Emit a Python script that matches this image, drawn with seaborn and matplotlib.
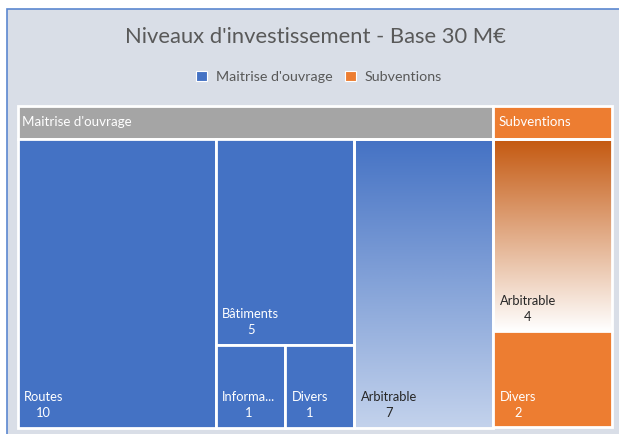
import numpy as np
import matplotlib
matplotlib.use("Agg")
import matplotlib.pyplot as plt
import seaborn as sns
from matplotlib.patches import Rectangle, Patch
from matplotlib.colors import LinearSegmentedColormap

# --- data -------------------------------------------------------------
title = "Niveaux d'investissement - Base 30 M€"
groups = ["Maitrise d'ouvrage", "Subventions"]

mo_labels = ["Routes", "Bâtiments", "Informa...", "Divers", "Arbitrable"]
mo_values = [10, 5, 1, 1, 7]

sub_labels = ["Arbitrable", "Divers"]
sub_values = [4, 2]

# nesting of the tiles inside each group (indices into the lists above)
mo_tree = [0, [1, [2, 3]], 4]
sub_tree = [0, 1]

# --- style ------------------------------------------------------------
sns.set_theme(style="white")
plt.rcParams["font.family"] = ["Lato", "DejaVu Sans"]

BLUE = "#4472C4"
ORANGE = "#ED7D31"
GREY = "#A5A5A5"
BG = "#D9DEE7"
TXT = "#595959"

W, H = 619, 434
fig = plt.figure(figsize=(W / 100, H / 100), dpi=100)
ax = fig.add_axes([0, 0, 1, 1])

# chart area frame
ax.add_patch(Rectangle((7, 8.5), W, H, facecolor=BG, edgecolor="#5B87D0", lw=1.2, zorder=0))

# --- treemap layout ---------------------------------------------------
def node_value(node, values):
    if isinstance(node, list):
        return sum(node_value(n, values) for n in node)
    return values[node]


def layout(node, values, x0, y0, x1, y1, horizontal, out):
    if not isinstance(node, list):
        out[node] = (x0, y0, x1, y1)
        return
    total = node_value(node, values)
    pos = x0 if horizontal else y0
    for child in node:
        frac = node_value(child, values) / total
        if horizontal:
            w = (x1 - x0) * frac
            layout(child, values, pos, y0, pos + w, y1, not horizontal, out)
            pos += w
        else:
            h = (y1 - y0) * frac
            layout(child, values, x0, pos, x1, pos + h, not horizontal, out)
            pos += h


TX0, TX1 = 17.5, 612
TY0, TY1 = 105.5, 427.5
HEADER = 33
EDGE = 2.0

group_values = [sum(mo_values), sum(sub_values)]
group_trees = [mo_tree, sub_tree]
group_vals = [mo_values, sub_values]
group_labels = [mo_labels, sub_labels]
group_start_h = [True, False]
header_colors = [GREY, ORANGE]
base_colors = [BLUE, ORANGE]
# tiles drawn with a vertical gradient: (group, tile) -> (top colour, bottom colour)
gradients = {(0, 4): (BLUE, "#C3D2EC"), (1, 0): ("#C4580F", "#FFFFFF")}

gx = TX0
gtotal = sum(group_values)
for g, gv in enumerate(group_values):
    gw = (TX1 - TX0) * gv / gtotal
    # group header
    ax.add_patch(Rectangle((gx, TY0), gw, HEADER, facecolor=header_colors[g],
                           edgecolor="white", lw=EDGE, zorder=2))
    ax.text(gx + 5, TY0 + HEADER / 2 + 0.5, groups[g], color="white", fontsize=9.6,
            ha="left", va="center", zorder=5)
    rects = {}
    layout(group_trees[g], group_vals[g], gx, TY0 + HEADER, gx + gw, TY1,
           group_start_h[g], rects)
    for i, (x0, y0, x1, y1) in rects.items():
        if (g, i) in gradients:
            top, bottom = gradients[(g, i)]
            cmap = LinearSegmentedColormap.from_list("grad", [top, bottom])
            grad = np.linspace(0, 1, 256).reshape(-1, 1)
            ax.imshow(grad, cmap=cmap, extent=[x0, x1, y1, y0], aspect="auto",
                      interpolation="bicubic", zorder=1)
            ax.add_patch(Rectangle((x0, y0), x1 - x0, y1 - y0, facecolor="none",
                                   edgecolor="white", lw=EDGE, zorder=2))
            tcol = "#262626"
        else:
            ax.add_patch(Rectangle((x0, y0), x1 - x0, y1 - y0, facecolor=base_colors[g],
                                   edgecolor="white", lw=EDGE, zorder=2))
            tcol = "white"
        ax.text(x0 + 6.5, y1 - 8.5, f"{group_labels[g][i]}\n{group_vals[g][i]}",
                color=tcol, fontsize=9.3, ha="left", va="bottom",
                multialignment="center", linespacing=1.4, zorder=5)
    gx += gw

# --- title and legend -------------------------------------------------
ax.text(315.5, 37, title, color=TXT, fontsize=15.8, ha="center", va="center")

handles = [Patch(facecolor=c, edgecolor="white", lw=0.8) for c in base_colors]
fig.legend(handles, groups, loc="center", bbox_to_anchor=(319 / W, 1 - 77 / H),
           ncol=2, frameon=False, fontsize=10.3, handlelength=0.75, handleheight=0.75,
           handletextpad=0.6, columnspacing=0.9, labelcolor=TXT)

ax.set_xlim(0, W)
ax.set_ylim(H, 0)
ax.axis("off")
fig.savefig("out.png", dpi=100, facecolor="white")
